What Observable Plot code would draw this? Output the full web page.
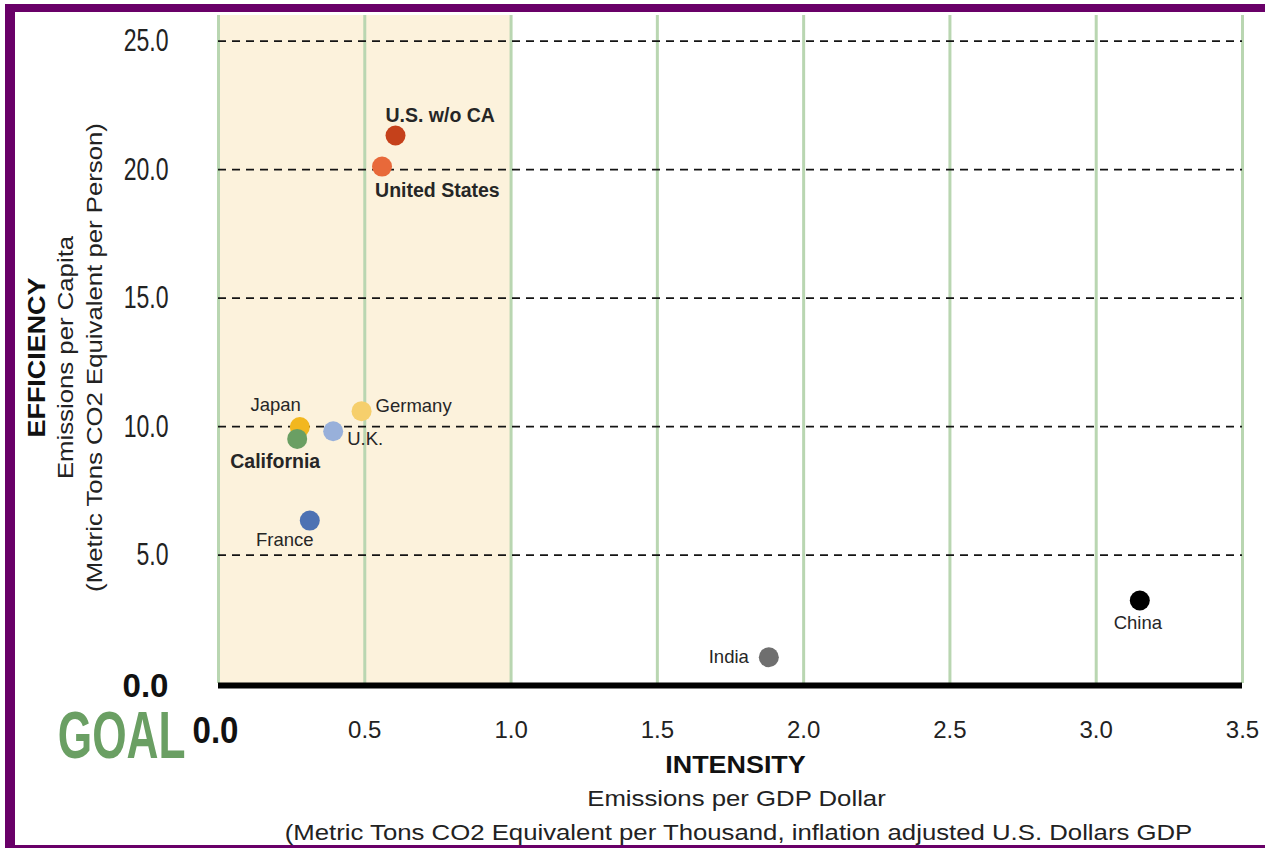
<!DOCTYPE html>
<html>
<head>
<meta charset="utf-8">
<script src="https://cdn.jsdelivr.net/npm/d3@7"></script>
<script src="https://cdn.jsdelivr.net/npm/@observablehq/plot@0.6"></script>
<style>
html, body { margin: 0; padding: 0; background: #fff; overflow: hidden; width: 1265px; height: 848px; }
#chart { position: absolute; left: 0; top: 0; }
#frame { position: absolute; left: 5px; top: 4px; width: 1300px; height: 844px; box-sizing: border-box;
  border-left: 10px solid #690068; border-top: 8px solid #690068; border-bottom: 3px solid #690068; pointer-events: none; }
</style>
</head>
<body>
<div id="chart"></div>
<div id="frame"></div>
<script>
// ---- data ----
const countries  = ["U.S. w/o CA", "United States", "Germany", "Japan", "U.K.", "California", "France", "India", "China"];
const intensity  = [0.605, 0.559, 0.489, 0.278, 0.392, 0.269, 0.312, 1.881, 3.149];
const perCapita  = [21.33, 20.12, 10.60, 9.98, 9.82, 9.52, 6.34, 1.02, 3.23];
const xTickValues = [0, 0.5, 1.0, 1.5, 2.0, 2.5, 3.0, 3.5];
const yTickValues = [0, 5, 10, 15, 20, 25];
const goalRange = [0, 1.0];
const yTitle = ["EFFICIENCY", "Emissions per Capita", "(Metric Tons CO2 Equivalent per Person)"];
const xTitle = ["INTENSITY", "Emissions per GDP Dollar", "(Metric Tons CO2 Equivalent per Thousand, inflation adjusted U.S. Dollars GDP"];
const goalText = "GOAL";

// ---- styles ----
const palette = ["#c5411b", "#e8693a", "#f6cf6c", "#f2b71f", "#98b0da", "#6a9f63", "#4d72b3", "#6f6f6f", "#000000"];
const labelPos = {
  "U.S. w/o CA":   {dx: -10, dy: -20, anchor: "start",  bold: true},
  "United States": {dx: -7,  dy: 24,  anchor: "start",  bold: true},
  "Germany":       {dx: 14,  dy: -5,  anchor: "start",  bold: false},
  "Japan":         {dx: 1,   dy: -22, anchor: "end",    bold: false},
  "U.K.":          {dx: 14,  dy: 8,   anchor: "start",  bold: false},
  "California":    {dx: -22, dy: 23,  anchor: "middle", bold: true},
  "France":        {dx: -25, dy: 19,  anchor: "middle", bold: false},
  "India":         {dx: -20, dy: 0,   anchor: "end",    bold: false},
  "China":         {dx: -2,  dy: 23,  anchor: "middle", bold: false}
};

const rows = countries.map((c, i) => ({country: c, intensity: intensity[i], perCapita: perCapita[i]}));
const fmt = d => d.toFixed(1);
const font = "Liberation Sans, Arial, Helvetica, sans-serif";

const labelMarks = rows.map(r => {
  const p = labelPos[r.country];
  return Plot.text([r], {
    x: "intensity", y: "perCapita", text: "country",
    dx: p.dx, dy: p.dy, textAnchor: p.anchor, lineAnchor: "middle",
    fontSize: p.bold ? 19.5 : 18.5, fontWeight: p.bold ? "bold" : "normal",
    fill: "#262626"
  });
});

const chart = Plot.plot({
  width: 1265, height: 848,
  marginLeft: 218, marginRight: 23, marginTop: 15, marginBottom: 165,
  style: {background: "white", fontFamily: font},
  x: {domain: [0, 3.5], label: null},
  y: {domain: [0, 26], label: null},
  color: {domain: countries, range: palette},
  marks: [
    Plot.rect([goalRange], {x1: d => d[0], x2: d => d[1], y1: 0, y2: 26, fill: "#fcf2dc"}),
    Plot.ruleX(xTickValues, {y1: 0, y2: 26, stroke: "#b9d6b1", strokeWidth: 3}),
    Plot.ruleY(yTickValues.filter(v => v > 0), {x1: 0, x2: 3.5, stroke: "#141414", strokeWidth: 1.8, strokeDasharray: "8,6"}),
    Plot.ruleY([0], {x1: 0, x2: 3.5, stroke: "#000", strokeWidth: 6, dy: 2}),
    Plot.dot(rows, {x: "intensity", y: "perCapita", fill: "country", r: 10}),
    ...labelMarks,
    Plot.axisY(yTickValues.filter(v => v > 0), {label: null, tickSize: 0, tickPadding: 50, tickFormat: fmt, fontSize: 32, color: "#222"}),
    Plot.axisY([0], {label: null, tickSize: 0, tickPadding: 50, tickFormat: fmt, fontSize: 33, fontWeight: "bold", color: "#111", dy: 3}),
    Plot.axisX(xTickValues.filter(v => v > 0), {label: null, tickSize: 0, tickPadding: 37, tickFormat: fmt, fontSize: 24, color: "#222"}),
    Plot.axisX([0], {label: null, tickSize: 0, tickPadding: 34, tickFormat: fmt, fontSize: 36, fontWeight: "bold", color: "#111", dx: -3}),
    Plot.text([goalText], {text: d => d, frameAnchor: "bottom-left", dx: -33, dy: 53, textAnchor: "end", lineAnchor: "middle",
      fontSize: 67, fontWeight: "bold", fill: "#6a9f63"}),
    Plot.text([yTitle[0]], {text: d => d, frameAnchor: "left", rotate: -90, dx: -181, dy: 8, textAnchor: "middle", lineAnchor: "middle",
      fontSize: 23, fontWeight: "bold", fill: "#111"}),
    Plot.text([yTitle[1]], {text: d => d, frameAnchor: "left", rotate: -90, dx: -153, dy: 8, textAnchor: "middle", lineAnchor: "middle",
      fontSize: 22, fill: "#222"}),
    Plot.text([yTitle[2]], {text: d => d, frameAnchor: "left", rotate: -90, dx: -124, dy: 8, textAnchor: "middle", lineAnchor: "middle",
      fontSize: 22, fill: "#222"}),
    Plot.text([xTitle[0]], {text: d => d, frameAnchor: "bottom", dx: 5, dy: 82, textAnchor: "middle", lineAnchor: "middle",
      fontSize: 23, fontWeight: "bold", fill: "#111"}),
    Plot.text([xTitle[1]], {text: d => d, frameAnchor: "bottom", dx: 6, dy: 115, textAnchor: "middle", lineAnchor: "middle",
      fontSize: 22, fill: "#222"}),
    Plot.text([xTitle[2]], {text: d => d, frameAnchor: "bottom", dx: 8, dy: 149, textAnchor: "middle", lineAnchor: "middle",
      fontSize: 22, fill: "#222"})
  ]
});

document.getElementById("chart").appendChild(chart);

// glyph width adjustment (condensed tick figures, wide title lettering)
const widthFactor = new Map([
  ...yTickValues.filter(v => v > 0).map(v => [fmt(v), 0.72]),
  [goalText, 0.66],
  ...yTitle.map(t => [t, 1.17]),
  ...xTitle.map(t => [t, 1.17])
]);
const widthTarget = new Map([[fmt(0), 46]]);
chart.querySelectorAll("text").forEach(el => {
  const txt = el.textContent;
  let w = null;
  if (widthTarget.has(txt)) w = widthTarget.get(txt);
  else if (widthFactor.has(txt)) w = el.getComputedTextLength() * widthFactor.get(txt);
  if (w) {
    el.setAttribute("textLength", w.toFixed(1));
    el.setAttribute("lengthAdjust", "spacingAndGlyphs");
  }
});
</script>
</body>
</html>
